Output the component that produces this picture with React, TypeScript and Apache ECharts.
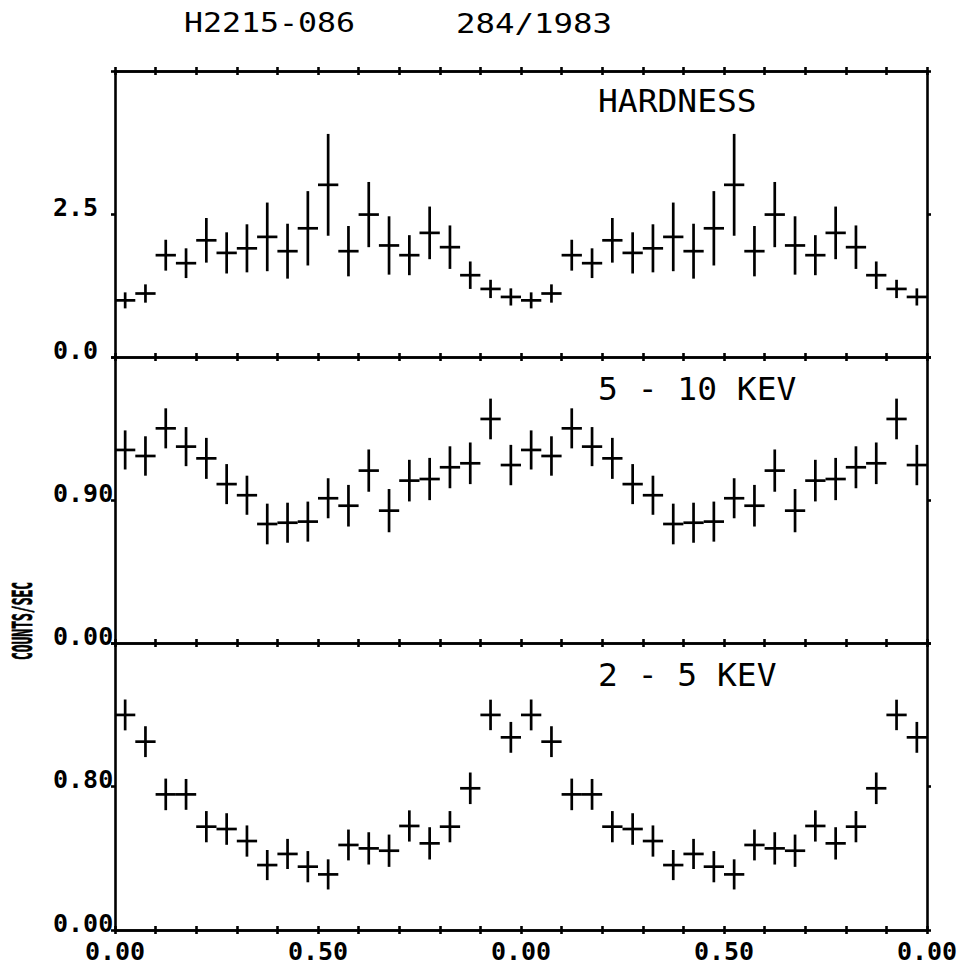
import React, { useEffect, useRef } from "react";
import * as echarts from "echarts";

// Phase bin centres (one cycle); the plot shows the folded cycle twice.
const phaseBins = [0.025, 0.075, 0.125, 0.175, 0.225, 0.275, 0.325, 0.375, 0.425, 0.475,
  0.525, 0.575, 0.625, 0.675, 0.725, 0.775, 0.825, 0.875, 0.925, 0.975];
const binHalfWidth = 0.025;

const hardness = [0.99, 1.11, 1.78, 1.64, 2.04, 1.82, 1.90, 2.10, 1.85, 2.25,
  3.01, 1.85, 2.49, 1.95, 1.78, 2.17, 1.92, 1.43, 1.19, 1.05];
const hardnessErr = [0.14, 0.16, 0.27, 0.26, 0.39, 0.36, 0.42, 0.60, 0.48, 0.65,
  0.89, 0.44, 0.57, 0.51, 0.35, 0.46, 0.38, 0.24, 0.16, 0.15];

const hard5to10 = [1.215, 1.177, 1.351, 1.236, 1.162, 1.0, 0.93, 0.749, 0.757, 0.764,
  0.911, 0.864, 1.085, 0.833, 1.022, 1.032, 1.106, 1.131, 1.41, 1.12];
const hard5to10Err = [0.123, 0.124, 0.126, 0.123, 0.129, 0.126, 0.123, 0.128, 0.126, 0.126,
  0.126, 0.131, 0.133, 0.136, 0.131, 0.133, 0.132, 0.131, 0.128, 0.127];

const soft2to5 = [1.199, 1.05, 0.756, 0.756, 0.576, 0.563, 0.496, 0.362, 0.424, 0.353,
  0.31, 0.474, 0.455, 0.442, 0.58, 0.483, 0.576, 0.79, 1.199, 1.074];
const soft2to5Err = [0.086, 0.086, 0.088, 0.086, 0.087, 0.088, 0.087, 0.084, 0.084, 0.087,
  0.084, 0.086, 0.09, 0.09, 0.087, 0.09, 0.087, 0.088, 0.085, 0.086];

const xTickLabels = ["0.00", "0.50", "0.00", "0.50", "0.00"];
const hardTickLabels = ["0.0", "2.5"];
const midTickLabels = ["0.00", "0.90"];
const lowTickLabels = ["0.00", "0.80"];

const panelTitles = ["HARDNESS", "5 - 10 KEV", "2 - 5 KEV"];

const LEFT = 115;
const RIGHT_EDGE = 927;
const TOPS = [71, 357, 643];
const HEIGHTS = [286, 286, 287];

const MONO = "'DejaVu Sans Mono', 'Liberation Mono', monospace";

function foldTwice(vals: number[], errs: number[]) {
  const out: number[][] = [];
  for (let c = 0; c < 2; c++) {
    for (let i = 0; i < phaseBins.length; i++) {
      out.push([phaseBins[i] + c, vals[i], errs[i]]);
    }
  }
  return out;
}

const crossRender = (params: any, api: any) => {
  const x = api.value(0);
  const y = api.value(1);
  const e = api.value(2);
  const l = api.coord([x - binHalfWidth, y]);
  const r = api.coord([x + binHalfWidth, y]);
  const t = api.coord([x, y + e]);
  const b = api.coord([x, y - e]);
  const style = { stroke: "#000", lineWidth: 2.7 };
  return {
    type: "group",
    children: [
      { type: "line", shape: { x1: l[0], y1: l[1], x2: r[0], y2: r[1] }, style },
      { type: "line", shape: { x1: t[0], y1: t[1], x2: b[0], y2: b[1] }, style },
    ],
  };
};

const xLabelFormatter = (v: number) => {
  const k = v / 0.5;
  const r = Math.round(k);
  return Math.abs(k - r) < 1e-6 ? xTickLabels[r] ?? "" : "";
};

function makeXAxis(grid: number, position: string, inside: boolean, labels: boolean) {
  return {
    type: "value",
    gridIndex: grid,
    position,
    min: 0,
    max: 2,
    interval: 0.1,
    axisLine: { show: true, onZero: false, lineStyle: { color: "#000", width: 2.6 } },
    axisTick: { show: true, inside, length: 4, lineStyle: { color: "#000", width: 2.6 } },
    axisLabel: labels
      ? {
          show: true,
          formatter: xLabelFormatter,
          color: "#000",
          fontFamily: MONO,
          fontWeight: "bold",
          fontSize: 25,
          margin: 9,
        }
      : { show: false },
    splitLine: { show: false },
  };
}

function makeYAxis(grid: number, max: number, interval: number, labels: string[] | null, position: string) {
  return {
    type: "value",
    gridIndex: grid,
    position,
    min: 0,
    max,
    interval,
    axisLine: { show: true, onZero: false, lineStyle: { color: "#000", width: 2.6 } },
    axisTick: { show: true, inside: false, length: 4, lineStyle: { color: "#000", width: 2.6 } },
    axisLabel: labels
      ? {
          show: true,
          formatter: (v: number) => {
            const i = Math.round(v / interval);
            return labels[i] ?? "";
          },
          color: "#000",
          fontFamily: MONO,
          fontWeight: "bold",
          fontSize: 25,
          align: "left",
          verticalAlign: "bottom",
          lineHeight: 14,
          margin: 62,
        }
      : { show: false },
    splitLine: { show: false },
  };
}

export default function App() {
  const ref = useRef<HTMLDivElement>(null);

  useEffect(() => {
    if (!ref.current) return;
    const chart = echarts.init(ref.current, null, { renderer: "svg" });

    const grids = TOPS.map((top, i) => ({
      left: LEFT,
      top,
      width: RIGHT_EDGE - LEFT,
      height: HEIGHTS[i],
      containLabel: false,
    }));

    const xAxis = [
      makeXAxis(0, "bottom", true, false), // 0 - used by series 0
      makeXAxis(0, "top", true, false),
      makeXAxis(0, "top", false, false),
      makeXAxis(1, "bottom", true, false), // 3 - used by series 1
      makeXAxis(1, "top", true, false),
      makeXAxis(2, "bottom", false, true), // 5 - used by series 2
      makeXAxis(2, "top", true, false),
      makeXAxis(2, "bottom", true, false),
    ];

    const yAxis = [
      makeYAxis(0, 5, 2.5, hardTickLabels, "left"),
      makeYAxis(0, 5, 2.5, null, "right"),
      makeYAxis(1, 1.8, 0.9, midTickLabels, "left"),
      makeYAxis(1, 1.8, 0.9, null, "right"),
      makeYAxis(2, 1.6, 0.8, lowTickLabels, "left"),
      makeYAxis(2, 1.6, 0.8, null, "right"),
    ];

    const series = [
      { type: "custom", xAxisIndex: 0, yAxisIndex: 0, renderItem: crossRender, data: foldTwice(hardness, hardnessErr), clip: false },
      { type: "custom", xAxisIndex: 3, yAxisIndex: 2, renderItem: crossRender, data: foldTwice(hard5to10, hard5to10Err), clip: false },
      { type: "custom", xAxisIndex: 5, yAxisIndex: 4, renderItem: crossRender, data: foldTwice(soft2to5, soft2to5Err), clip: false },
    ];

    const panelTextY = [101, 389, 675];
    const graphic: any[] = [
      {
        type: "text",
        x: 184,
        y: 23,
        scaleX: 1.17,
        style: { text: "H2215-086", font: `normal 27px ${MONO}`, fill: "#000", verticalAlign: "middle" },
      },
      {
        type: "text",
        x: 456,
        y: 23,
        scaleX: 1.2,
        style: { text: "284/1983", font: `normal 27px ${MONO}`, fill: "#000", verticalAlign: "middle" },
      },
      {
        type: "text",
        x: 23,
        y: 621,
        rotation: Math.PI / 2,
        scaleX: 0.5,
        style: {
          text: "COUNTS/SEC",
          font: `bold 26px ${MONO}`,
          fill: "#000",
          stroke: "#000",
          lineWidth: 0.8,
          align: "center",
          verticalAlign: "middle",
        },
      },
      ...panelTitles.map((t, i) => ({
        type: "text",
        x: 598,
        y: panelTextY[i],
        scaleX: 1.03,
        style: { text: t, font: `normal 32px ${MONO}`, fill: "#000", align: "left", verticalAlign: "middle" },
      })),
    ];

    chart.setOption({
      animation: false,
      backgroundColor: "#fff",
      grid: grids,
      xAxis,
      yAxis,
      series,
      graphic,
    });

    return () => chart.dispose();
  }, []);

  return (
    <div
      ref={ref}
      style={{ position: "fixed", left: 0, top: 0, width: 974, height: 968, background: "#fff" }}
    />
  );
}
